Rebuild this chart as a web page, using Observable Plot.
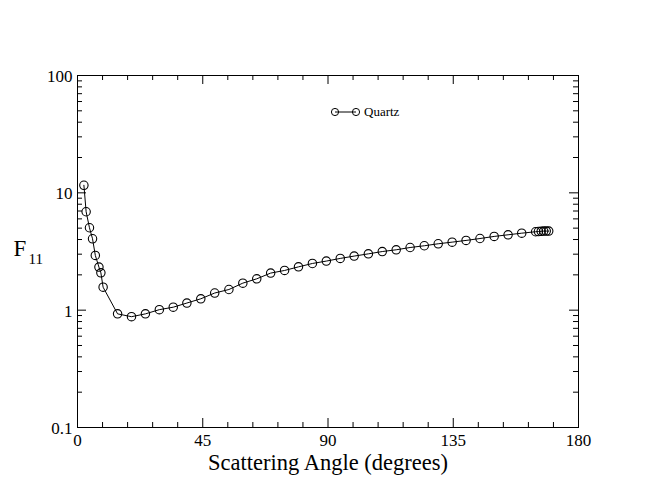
<!DOCTYPE html>
<html>
<head>
<meta charset="utf-8">
<script src="https://cdn.jsdelivr.net/npm/d3@7"></script>
<script src="https://cdn.jsdelivr.net/npm/@observablehq/plot@0.6"></script>
<style>
  html, body { margin: 0; padding: 0; background: #fff; }
  #wrap { position: relative; width: 650px; height: 502px; font-family: 'Liberation Serif', 'Times New Roman', serif; }
  #wrap svg text { font-family: 'Liberation Serif', 'Times New Roman', serif; }
  #legend { position: absolute; left: 326px; top: 102px; }
</style>
</head>
<body>
<div id="wrap"></div>
<script>
// Data (scattering angle in degrees, F11)
const angles = [2.3, 3.1, 4.3, 5.4, 6.4, 7.7, 8.4, 9.2, 14.4, 19.4, 24.4, 29.4, 34.4, 39.3, 44.3, 49.3,
  54.4, 59.4, 64.4, 69.4, 74.4, 79.4, 84.4, 89.4, 94.4, 99.4, 104.5, 109.5, 114.5, 119.5, 124.6,
  129.6, 134.6, 139.6, 144.6, 149.7, 154.7, 159.6, 164.6, 165.6, 166.6, 167.5, 168.4, 169.3];
const f11 = [11.6, 6.9, 5.04, 4.06, 2.93, 2.33, 2.08, 1.57, 0.93, 0.88, 0.93, 1.01, 1.06, 1.15, 1.25, 1.40,
  1.50, 1.70, 1.85, 2.07, 2.18, 2.34, 2.50, 2.62, 2.76, 2.89, 3.02, 3.16, 3.27, 3.42, 3.54,
  3.68, 3.80, 3.93, 4.08, 4.25, 4.39, 4.53, 4.66, 4.68, 4.70, 4.72, 4.72, 4.72];
const seriesName = "Quartz";

const xMajorTicks = [0, 45, 90, 135, 180];
const xMinorTicks = [9, 18, 27, 36, 54, 63, 72, 81, 99, 108, 117, 126, 144, 153, 162, 171];
const yMajorTicks = [0.1, 1, 10, 100];
const yTickLabels = ["0.1", "1", "10", "100"];
const yMinorTicks = [0.2, 0.3, 0.4, 0.5, 0.6, 0.7, 0.8, 0.9, 2, 3, 4, 5, 6, 7, 8, 9,
  20, 30, 40, 50, 60, 70, 80, 90];

const xTitle = "Scattering Angle (degrees)";
const yTitleMain = "F";
const yTitleSub = "11";

const data = angles.map((a, i) => ({angle: a, f11: f11[i]}));

const W = 650, H = 502;
const mL = 77, mR = 72, mT = 75, mB = 75;
const innerW = W - mL - mR, innerH = H - mT - mB;
const major = 9, minor = 5;
const serif = "'Liberation Serif', 'Times New Roman', serif";

const chart = Plot.plot({
  width: W, height: H,
  marginLeft: mL, marginRight: mR, marginTop: mT, marginBottom: mB,
  style: {background: "#fff", color: "#000", fontFamily: serif},
  x: {domain: [0, 180]},
  y: {type: "log", domain: [0.1, 100]},
  marks: [
    Plot.frame({stroke: "#000", strokeWidth: 1}),
    // tick labels
    Plot.axisX({ticks: xMajorTicks, tickSize: 0, tickPadding: 6, fontSize: 17, label: null}),
    Plot.axisY({ticks: yMajorTicks, tickFormat: d => yTickLabels[yMajorTicks.indexOf(d)], tickSize: 0, tickPadding: 5, fontSize: 17, label: null, dy: 1}),
    // inward ticks on all four sides
    Plot.tickX(xMajorTicks, {x: d => d, insetTop: innerH - major, stroke: "#000"}),
    Plot.tickX(xMajorTicks, {x: d => d, insetBottom: innerH - major, stroke: "#000"}),
    Plot.tickX(xMinorTicks, {x: d => d, insetTop: innerH - minor, stroke: "#000"}),
    Plot.tickX(xMinorTicks, {x: d => d, insetBottom: innerH - minor, stroke: "#000"}),
    Plot.tickY(yMajorTicks, {y: d => d, insetRight: innerW - major, stroke: "#000"}),
    Plot.tickY(yMajorTicks, {y: d => d, insetLeft: innerW - major, stroke: "#000"}),
    Plot.tickY(yMinorTicks, {y: d => d, insetRight: innerW - minor, stroke: "#000"}),
    Plot.tickY(yMinorTicks, {y: d => d, insetLeft: innerW - minor, stroke: "#000"}),
    // data
    Plot.line(data, {x: "angle", y: "f11", stroke: "#000", strokeWidth: 1}),
    Plot.dot(data, {x: "angle", y: "f11", r: 4.2, stroke: "#000", strokeWidth: 1.1, fill: "none"}),
    // axis titles
    Plot.text([xTitle], {frameAnchor: "bottom", lineAnchor: "bottom", dy: 42, fontSize: 22.5, fill: "#000"}),
    Plot.text([yTitleMain], {frameAnchor: "left", textAnchor: "start", lineAnchor: "bottom", dx: -64, dy: 4, fontSize: 23, fill: "#000"}),
    Plot.text([yTitleSub], {frameAnchor: "left", textAnchor: "start", lineAnchor: "bottom", dx: -49, dy: 12, fontSize: 15, fill: "#000"})
  ]
});

const wrap = document.getElementById("wrap");
wrap.appendChild(chart);

// Legend
const legend = d3.select(wrap).append("svg")
  .attr("id", "legend").attr("width", 100).attr("height", 20);
legend.append("line").attr("x1", 9).attr("x2", 30).attr("y1", 10).attr("y2", 10)
  .attr("stroke", "#000").attr("stroke-width", 1);
legend.selectAll("circle").data([9, 30]).join("circle")
  .attr("cx", d => d).attr("cy", 10).attr("r", 3.6)
  .attr("fill", "none").attr("stroke", "#000").attr("stroke-width", 1);
legend.append("text").attr("x", 38).attr("y", 14)
  .style("font-family", serif).attr("font-size", 13).attr("fill", "#000")
  .text(seriesName);
</script>
</body>
</html>
